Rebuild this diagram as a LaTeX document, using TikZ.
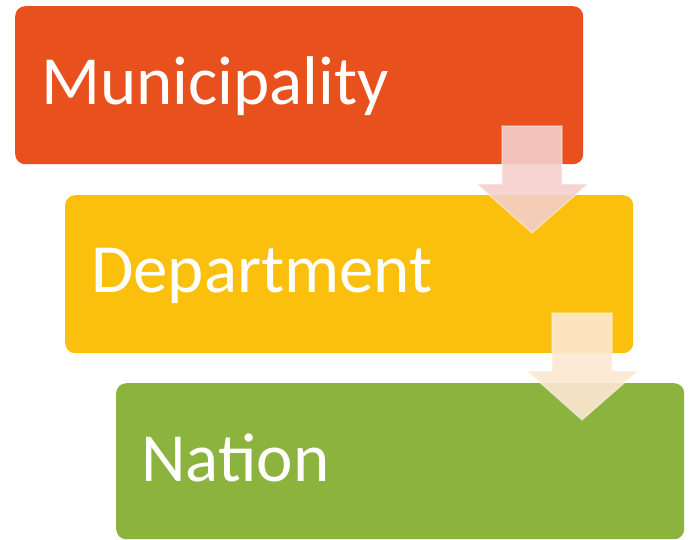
\documentclass[tikz,border=0pt]{standalone}
\usepackage{fontspec}
\setmainfont{Carlito}
\definecolor{muni}{RGB}{232,81,30}
\definecolor{dept}{RGB}{251,192,14}
\definecolor{nat}{RGB}{141,179,63}
\definecolor{arrA}{RGB}{244,207,204}
\definecolor{arrB}{RGB}{253,232,210}
\begin{document}
\begin{tikzpicture}[x=1pt,y=-1pt,
  levelbox/.style={rectangle,rounded corners=10pt,inner sep=0pt,anchor=north west,
    minimum width=568pt,minimum height=158pt,draw=none},
  leveltext/.style={anchor=base west,inner sep=0pt,text=white,font=\fontsize{69}{82}\selectfont},
  blockarrow/.style={fill opacity=0.9,draw=white,draw opacity=0.45,line width=1.2pt,line join=miter}]
\useasboundingbox (0,0) rectangle (692,539);
\node[levelbox,fill=muni] (m) at (15,6) {};
\node[levelbox,fill=dept] (d) at (65,195) {};
\node[levelbox,fill=nat,minimum height=156pt] (n) at (116,383) {};
\node[leveltext] (mt) at (41,104) {Municipality};
\node[leveltext] (dt) at (91,292.7) {Department};
\node[leveltext] (nt) at (141,481.7) {Nation};
\draw[blockarrow,fill=arrA] (502,126) -- (562,126) -- (562,184) -- (588,184) -- (532,233) -- (477,184) -- (502,184) -- cycle;
\draw[blockarrow,fill=arrB] (552,313) -- (612,313) -- (612,371) -- (638,371) -- (582,420) -- (527,371) -- (552,371) -- cycle;
\end{tikzpicture}
\end{document}
